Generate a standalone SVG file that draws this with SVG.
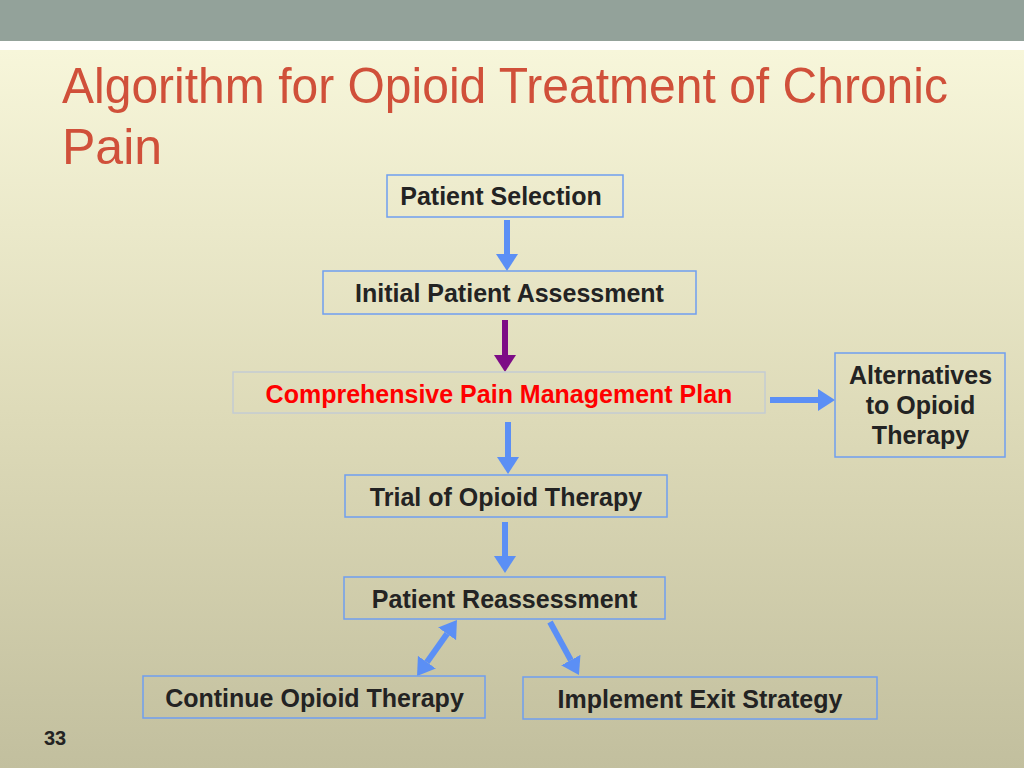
<svg xmlns="http://www.w3.org/2000/svg" width="1024" height="768" viewBox="0 0 1024 768">
  <defs>
    <linearGradient id="bg" x1="0" y1="50" x2="0" y2="768" gradientUnits="userSpaceOnUse">
      <stop offset="0" stop-color="#f7f6da"/>
      <stop offset="0.5" stop-color="#dedbb9"/>
      <stop offset="1" stop-color="#c2bf9e"/>
    </linearGradient>
    <marker id="headBlue" markerUnits="userSpaceOnUse" markerWidth="17" markerHeight="22" viewBox="0 0 17 22" refX="0" refY="11" orient="auto-start-reverse">
      <path d="M0,0 L17,11 L0,22 z" fill="#5b8ff5"/>
    </marker>
    <marker id="headPurple" markerUnits="userSpaceOnUse" markerWidth="17" markerHeight="22" viewBox="0 0 17 22" refX="0" refY="11" orient="auto">
      <path d="M0,0 L17,11 L0,22 z" fill="#7d0c86"/>
    </marker>
    <style>
      .box { fill: none; stroke: #6f9ef0; stroke-width: 1.5; }
      .boxLight { fill: none; stroke: #c4ccd2; stroke-width: 1.5; }
      .lbl { font-family: "Liberation Sans", Arial, sans-serif; font-weight: bold; font-size: 25px; fill: #232323; text-anchor: middle; }
      .red { fill: #ff0000; }
      .title { font-family: "Liberation Sans", Arial, sans-serif; font-size: 50px; fill: #d0503a; }
      .blue { stroke: #5b8ff5; stroke-width: 6; fill: none; marker-end: url(#headBlue); }
      .purple { stroke: #7d0c86; stroke-width: 6; fill: none; marker-end: url(#headPurple); }
    </style>
  </defs>

  <rect x="0" y="0" width="1024" height="768" fill="url(#bg)"/>
  <rect x="0" y="0" width="1024" height="41" fill="#93a29a"/>
  <rect x="0" y="41" width="1024" height="9" fill="#ffffff"/>

  <text class="title" x="62" y="103" textLength="886" lengthAdjust="spacingAndGlyphs">Algorithm for Opioid Treatment of Chronic</text>
  <text class="title" x="62" y="164">Pain</text>

  <g id="connectors">
    <line class="blue" x1="507" y1="220" x2="507" y2="254"/>
    <line class="purple" x1="505" y1="320" x2="505" y2="355"/>
    <line class="blue" x1="770" y1="400" x2="818" y2="400"/>
    <line class="blue" x1="508" y1="422" x2="508" y2="457"/>
    <line class="blue" x1="505" y1="522" x2="505" y2="556"/>
    <line class="blue" x1="447.1" y1="633.8" x2="426.9" y2="662.2" marker-start="url(#headBlue)"/>
    <line class="blue" x1="550" y1="622" x2="570.8" y2="660.1"/>
  </g>

  <g id="patient-selection">
    <rect class="box" x="387" y="175" width="236" height="42"/>
    <text class="lbl" x="501" y="205">Patient Selection</text>
  </g>

  <g id="initial-assessment">
    <rect class="box" x="323" y="271" width="373" height="43"/>
    <text class="lbl" x="509.5" y="302">Initial Patient Assessment</text>
  </g>

  <g id="pain-plan">
    <rect class="boxLight" x="233" y="372" width="532" height="41"/>
    <text class="lbl red" x="499" y="403">Comprehensive Pain Management Plan</text>
  </g>

  <g id="alternatives">
    <rect class="box" x="835" y="353" width="170" height="104"/>
    <text class="lbl" x="920.5" y="384">Alternatives</text>
    <text class="lbl" x="920.5" y="414">to Opioid</text>
    <text class="lbl" x="920.5" y="444">Therapy</text>
  </g>

  <g id="trial">
    <rect class="box" x="345" y="475" width="322" height="42"/>
    <text class="lbl" x="506" y="506">Trial of Opioid Therapy</text>
  </g>

  <g id="reassessment">
    <rect class="box" x="344" y="577" width="321" height="42"/>
    <text class="lbl" x="504.5" y="608">Patient Reassessment</text>
  </g>

  <g id="continue">
    <rect class="box" x="143" y="676" width="342" height="42"/>
    <text class="lbl" x="314.5" y="707">Continue Opioid Therapy</text>
  </g>

  <g id="exit">
    <rect class="box" x="523" y="677" width="354" height="42"/>
    <text class="lbl" x="700" y="708">Implement Exit Strategy</text>
  </g>

  <text x="55" y="745" font-family="Liberation Sans, Arial, sans-serif" font-weight="bold" font-size="20" fill="#232323" text-anchor="middle">33</text>
</svg>
